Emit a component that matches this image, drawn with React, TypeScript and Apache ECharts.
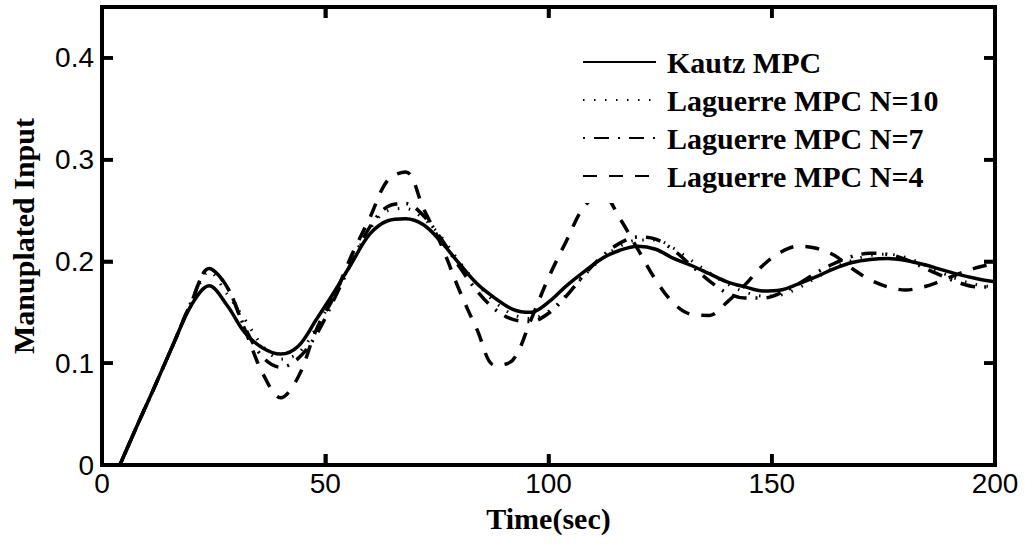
import React, { useEffect, useRef } from "react";
import * as echarts from "echarts";

const time: number[] = [
  4, 8, 12, 16, 20, 24, 28, 32, 36, 40, 44, 48, 52, 56, 60, 64, 68, 72, 76,
  80, 84, 88, 92, 96, 100, 104, 108, 112, 116, 120, 124, 128, 132, 136, 140,
  144, 148, 152, 156, 160, 164, 168, 172, 176, 180, 184, 188, 192, 196, 200,
];

const kautz: number[] = [
  0, 0.04, 0.079, 0.119, 0.157, 0.176, 0.157, 0.13, 0.115, 0.109, 0.117,
  0.143, 0.17, 0.199, 0.227, 0.24, 0.242, 0.236, 0.219, 0.198, 0.178, 0.164,
  0.153, 0.15, 0.16, 0.176, 0.19, 0.203, 0.211, 0.215, 0.212, 0.203, 0.196,
  0.188, 0.18, 0.175, 0.171, 0.172, 0.178, 0.185, 0.193, 0.199, 0.202, 0.203,
  0.201, 0.197, 0.192, 0.187, 0.183, 0.18,
];

const laguerre10: number[] = [
  0, 0.04, 0.079, 0.119, 0.158, 0.19, 0.168, 0.143, 0.117, 0.104, 0.11,
  0.135, 0.167, 0.2, 0.232, 0.25, 0.252, 0.242, 0.224, 0.2, 0.178, 0.16, 0.148,
  0.144, 0.151, 0.167, 0.186, 0.203, 0.215, 0.221, 0.221, 0.213, 0.201, 0.189,
  0.178, 0.17, 0.166, 0.167, 0.174, 0.184, 0.194, 0.201, 0.206, 0.207, 0.204,
  0.197, 0.189, 0.182, 0.177, 0.175,
];

const laguerre7: number[] = [
  0, 0.04, 0.079, 0.119, 0.16, 0.193, 0.175, 0.135, 0.106, 0.096, 0.105,
  0.128, 0.163, 0.2, 0.234, 0.254, 0.257, 0.245, 0.222, 0.195, 0.171, 0.153,
  0.143, 0.141, 0.149, 0.166, 0.187, 0.205, 0.218, 0.224, 0.222, 0.211, 0.196,
  0.181, 0.169, 0.164, 0.164, 0.169, 0.178, 0.189, 0.198, 0.205, 0.208, 0.207,
  0.202, 0.194, 0.186, 0.179, 0.175, 0.175,
];

const laguerre4: number[] = [
  0, 0.04, 0.079, 0.119, 0.16, 0.193, 0.175, 0.133, 0.09, 0.066, 0.087,
  0.133, 0.166, 0.207, 0.243, 0.28, 0.288, 0.252, 0.216, 0.172, 0.133, 0.098,
  0.103, 0.142, 0.184, 0.22, 0.254, 0.266, 0.242, 0.212, 0.182, 0.159, 0.148,
  0.147, 0.16, 0.177, 0.196, 0.209, 0.215, 0.213, 0.206, 0.193, 0.182, 0.175,
  0.172, 0.175, 0.181, 0.188, 0.194, 0.198,
];

const seriesNames: string[] = [
  "Kautz MPC",
  "Laguerre MPC N=10",
  "Laguerre MPC N=7",
  "Laguerre MPC N=4",
];

const X_MIN = 0;
const X_MAX = 200;
const X_INTERVAL = 50;
const Y_MIN = 0;
const Y_MAX = 0.45;
const Y_INTERVAL = 0.1;
const xTickValues: number[] = [50, 100, 150];
const yTickValues: number[] = [0.1, 0.2, 0.3, 0.4];

const SANS = "'Liberation Sans', Arial, sans-serif";
const SERIF = "'Liberation Serif', 'Times New Roman', serif";

function mkLine() {
  return { show: true, onZero: false, lineStyle: { color: "#000", width: 4, type: "solid" } };
}
function mkTick() {
  return { show: true, inside: true, length: 11, lineStyle: { color: "#000", width: 3.5 } };
}

export default function App() {
  const ref = useRef<HTMLDivElement>(null);

  useEffect(() => {
    if (!ref.current) return;
    const chart = echarts.init(ref.current, null, { renderer: "svg" });

    const pairs = (vals: number[]) => time.map((t, i) => [t, vals[i]]);
    const dashes: any[] = ["solid", [1.5, 9.5], [2, 9, 15, 9], [14, 12]];
    const widths: number[] = [3.5, 3, 3.5, 3.5];
    const data = [kautz, laguerre10, laguerre7, laguerre4];

    chart.setOption({
      animation: false,
      grid: {
        left: 101,
        right: 30,
        top: 7,
        bottom: 79,
        show: false,
        containLabel: false,
      },
      legend: {
        orient: "vertical",
        left: 572,
        top: 41,
        padding: [6, 12, 12, 10],
        backgroundColor: "#fff",
        itemWidth: 73,
        itemHeight: 20,
        itemGap: 8,
        selectedMode: false,
        data: seriesNames,
        itemStyle: { opacity: 0 },
        textStyle: {
          fontFamily: SERIF,
          fontWeight: "bold",
          fontSize: 30,
          lineHeight: 30,
          color: "#000",
          padding: [0, 0, 0, 6],
        },
      },
      xAxis: [
        {
          type: "value",
          min: X_MIN,
          max: X_MAX,
          interval: X_INTERVAL,
          position: "bottom",
          name: "Time(sec)",
          nameLocation: "middle",
          nameGap: 38,
          nameTextStyle: { fontFamily: SERIF, fontWeight: "bold", fontSize: 30, color: "#000" },
          axisLine: mkLine(),
          axisTick: mkTick(),
          splitLine: { show: false },
          axisLabel: { fontFamily: SANS, fontSize: 28, color: "#000", margin: 4 },
        },
        {
          type: "value",
          min: X_MIN,
          max: X_MAX,
          interval: X_INTERVAL,
          position: "top",
          axisLine: mkLine(),
          axisTick: mkTick(),
          splitLine: { show: false },
          axisLabel: { show: false },
        },
      ],
      yAxis: [
        {
          type: "value",
          min: Y_MIN,
          max: Y_MAX,
          interval: Y_INTERVAL,
          position: "left",
          name: "Manuplated Input",
          nameLocation: "middle",
          nameGap: 64,
          nameTextStyle: { fontFamily: SERIF, fontWeight: "bold", fontSize: 30, color: "#000" },
          axisLine: mkLine(),
          axisTick: mkTick(),
          splitLine: { show: false },
          axisLabel: {
            fontFamily: SANS,
            fontSize: 28,
            color: "#000",
            margin: 8,
            showMaxLabel: false,
            formatter: (v: number) => (v === 0 ? "0" : v.toFixed(1)),
          },
        },
        {
          type: "value",
          min: Y_MIN,
          max: Y_MAX,
          interval: Y_INTERVAL,
          position: "right",
          axisLine: mkLine(),
          axisTick: mkTick(),
          splitLine: { show: false },
          axisLabel: { show: false },
        },
      ],
      series: seriesNames.map((name, i) => ({
        name,
        type: "line",
        xAxisIndex: 0,
        yAxisIndex: 0,
        data: pairs(data[i]),
        smooth: 0.35,
        symbol: "none",
        showSymbol: false,
        clip: true,
        lineStyle: { color: "#000", width: widths[i], type: dashes[i] },
        itemStyle: { color: "#000" },
      })),
    });

    // Frame and inward tick marks, placed through the axes' own scales
    const px = (v: number) => chart.convertToPixel({ xAxisIndex: 0 }, v) as number;
    const py = (v: number) => chart.convertToPixel({ yAxisIndex: 0 }, v) as number;
    const left = px(X_MIN);
    const right = px(X_MAX);
    const top = py(Y_MAX);
    const bottom = py(Y_MIN);
    const TL = 11;
    const tickStyle = { stroke: "#000", lineWidth: 3.5 };
    const elements: any[] = [
      {
        type: "rect",
        z: 100,
        silent: true,
        shape: { x: left, y: top, width: right - left, height: bottom - top },
        style: { fill: "transparent", stroke: "#000", lineWidth: 4 },
      },
    ];
    xTickValues.forEach((v) => {
      const x = px(v);
      elements.push({ type: "line", z: 100, silent: true, shape: { x1: x, y1: bottom, x2: x, y2: bottom - TL }, style: tickStyle });
      elements.push({ type: "line", z: 100, silent: true, shape: { x1: x, y1: top, x2: x, y2: top + TL }, style: tickStyle });
    });
    yTickValues.forEach((v) => {
      const y = py(v);
      elements.push({ type: "line", z: 100, silent: true, shape: { x1: left, y1: y, x2: left + TL, y2: y }, style: tickStyle });
      elements.push({ type: "line", z: 100, silent: true, shape: { x1: right, y1: y, x2: right - TL, y2: y }, style: tickStyle });
    });
    chart.setOption({ graphic: { elements } });

    return () => chart.dispose();
  }, []);

  return (
    <div
      ref={ref}
      style={{ position: "fixed", left: 0, top: 0, width: 1025, height: 544, background: "#fff" }}
    />
  );
}
